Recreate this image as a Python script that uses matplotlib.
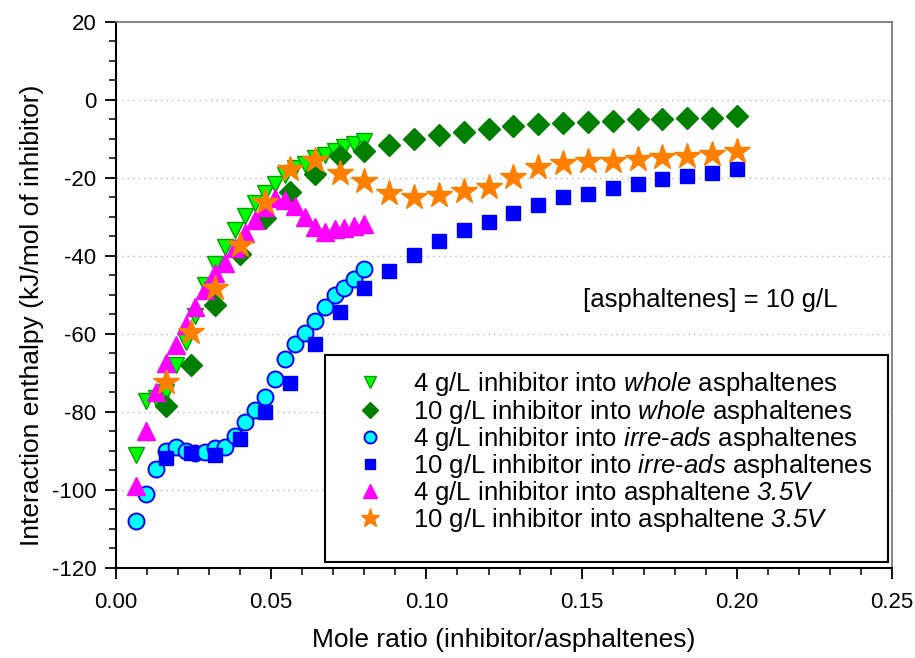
import numpy as np
import matplotlib.pyplot as plt
from matplotlib.patches import Rectangle
from matplotlib.ticker import MultipleLocator

plt.rcParams['font.family'] = ['Liberation Sans', 'DejaVu Sans']
plt.rcParams['axes.unicode_minus'] = False
# math segments are only used for the italic words, digits included
plt.rcParams['mathtext.fontset'] = 'custom'
plt.rcParams['mathtext.it'] = 'Liberation Sans:italic'
plt.rcParams['mathtext.rm'] = 'Liberation Sans:italic'

# mole ratio for the 4 g/L runs and the 10 g/L runs
x_low = [0.0064, 0.0096, 0.0128, 0.0160, 0.0192, 0.0224, 0.0256, 0.0288,
         0.0320, 0.0352, 0.0384, 0.0416, 0.0448, 0.0480, 0.0512, 0.0544,
         0.0576, 0.0608, 0.0640, 0.0672, 0.0704, 0.0736, 0.0768, 0.0800]
x_high = [0.016, 0.024, 0.032, 0.040, 0.048, 0.056, 0.064, 0.072,
          0.080, 0.088, 0.096, 0.104, 0.112, 0.120, 0.128, 0.136,
          0.144, 0.152, 0.160, 0.168, 0.176, 0.184, 0.192, 0.200]

# interaction enthalpy (kJ/mol of inhibitor)
whole_4 = [-91.0, -77.2, -76.5, -75.0, -68.0, -62.0, -55.3, -47.5,
           -42.0, -37.6, -33.3, -29.7, -26.5, -23.9, -21.6, -19.3,
           -17.5, -16.5, -15.0, -14.0, -13.0, -12.0, -11.2, -10.6]
whole_10 = [-78.5, -68.0, -52.5, -39.5, -30.3, -23.7, -19.0, -14.4,
            -13.2, -11.5, -10.1, -9.0, -8.1, -7.4, -6.8, -6.2,
            -5.9, -5.6, -5.3, -5.0, -4.8, -4.7, -4.5, -4.2]
irre_4 = [-107.9, -101.1, -94.6, -89.9, -88.9, -89.9, -90.6, -90.3,
          -89.3, -88.9, -86.1, -82.5, -79.5, -76.1, -71.5, -66.4,
          -62.6, -59.8, -56.6, -53.0, -50.0, -48.3, -46.0, -43.3]
irre_10 = [-91.9, -90.4, -91.0, -86.9, -80.1, -72.6, -62.6, -54.4,
           -48.3, -43.8, -39.8, -36.1, -33.3, -31.2, -28.9, -26.9,
           -25.0, -24.1, -22.6, -21.5, -20.3, -19.5, -18.6, -17.8]
v35_4 = [-99.1, -85.0, -75.0, -67.5, -62.8, -57.7, -53.0, -48.7,
         -44.4, -41.9, -38.0, -34.2, -30.8, -27.5, -25.2, -25.6,
         -27.2, -29.9, -32.5, -33.8, -33.2, -32.7, -32.3, -31.8]
v35_10 = [-72.2, -59.5, -48.1, -37.2, -26.1, -17.8, -15.3, -18.8,
          -20.7, -23.8, -24.9, -24.4, -23.3, -22.4, -19.7, -17.3,
          -16.1, -15.6, -15.6, -15.2, -14.5, -14.4, -13.8, -13.1]

fig = plt.figure(figsize=(9.15, 6.58), dpi=100)
ax = fig.add_axes([0.1268, 0.1368, 0.8481, 0.8298])

ax.plot(x_low, whole_4, 'v', ms=12, mfc='#00FF00', mec='#00A000', mew=1,
        label='4 g/L inhibitor into $whole$ asphaltenes')
ax.plot(x_high, whole_10, 'D', ms=11, mfc='#007F00', mec='#007F00', mew=1,
        label='10 g/L inhibitor into $whole$ asphaltenes')
ax.plot(x_low, irre_4, 'o', ms=11.5, mfc='#00FFFF', mec='#0000FF', mew=1.4,
        label='4 g/L inhibitor into $irre$-$ads$ asphaltenes')
ax.plot(x_high, irre_10, 's', ms=10.5, mfc='#0000FF', mec='#0000FF', mew=1,
        label='10 g/L inhibitor into $irre$-$ads$ asphaltenes')
ax.plot(x_low, v35_4, '^', ms=12.5, mfc='#FF00FF', mec='#FF00FF', mew=1,
        label='4 g/L inhibitor into asphaltene $3.5V$')
ax.plot(x_high, v35_10, '*', ms=19, mfc='#FF8000', mec='#FF8000', mew=1,
        label='10 g/L inhibitor into asphaltene $3.5V$')

ax.set_xlim(0, 0.25)
ax.set_ylim(-120, 20)
ax.xaxis.set_major_locator(MultipleLocator(0.05))
ax.xaxis.set_minor_locator(MultipleLocator(0.01))
ax.yaxis.set_major_locator(MultipleLocator(20))
ax.yaxis.set_minor_locator(MultipleLocator(5))
ax.xaxis.set_major_formatter(plt.FormatStrFormatter('%.2f'))

ax.tick_params(which='major', direction='out', length=8, width=1.3, labelsize=16)
ax.tick_params(which='minor', direction='out', length=5, width=1.1)
ax.tick_params(axis='x', pad=9)
ax.tick_params(axis='y', pad=6)

for s in ['left', 'bottom']:
    ax.spines[s].set_linewidth(1.5)
for s in ['top', 'right']:
    ax.spines[s].set_color('#707070')
    ax.spines[s].set_linewidth(1.2)

for yv in [0, -20, -40, -60, -80, -100]:
    ax.axhline(yv, color='#bbbbbb', linestyle=(0, (1, 3)), linewidth=1, zorder=0)

ax.set_xlabel('Mole ratio (inhibitor/asphaltenes)', fontsize=19, labelpad=11)
ax.set_ylabel('Interaction enthalpy (kJ/mol of inhibitor)', fontsize=19)
ax.yaxis.set_label_coords(-0.093, 0.463)

ax.text(0.1503, -51.3, '[asphaltenes] = 10 g/L', fontsize=18.5, va='center', ha='left')

# legend box drawn by hand so the empty space at the bottom matches
box = Rectangle((0.2693, 0.011), 0.7255, 0.379, transform=ax.transAxes,
                facecolor='white', edgecolor='black', linewidth=1.5, zorder=5)
ax.add_patch(box)
leg = ax.legend(loc='upper left', bbox_to_anchor=(0.311, 0.362), frameon=False,
                fontsize=18.5, handlelength=1.0, handletextpad=1.15, labelspacing=-0.03,
                borderpad=0, borderaxespad=0, markerscale=0.75, numpoints=1)
leg.set_zorder(6)

fig.savefig('out.png', dpi=100)
